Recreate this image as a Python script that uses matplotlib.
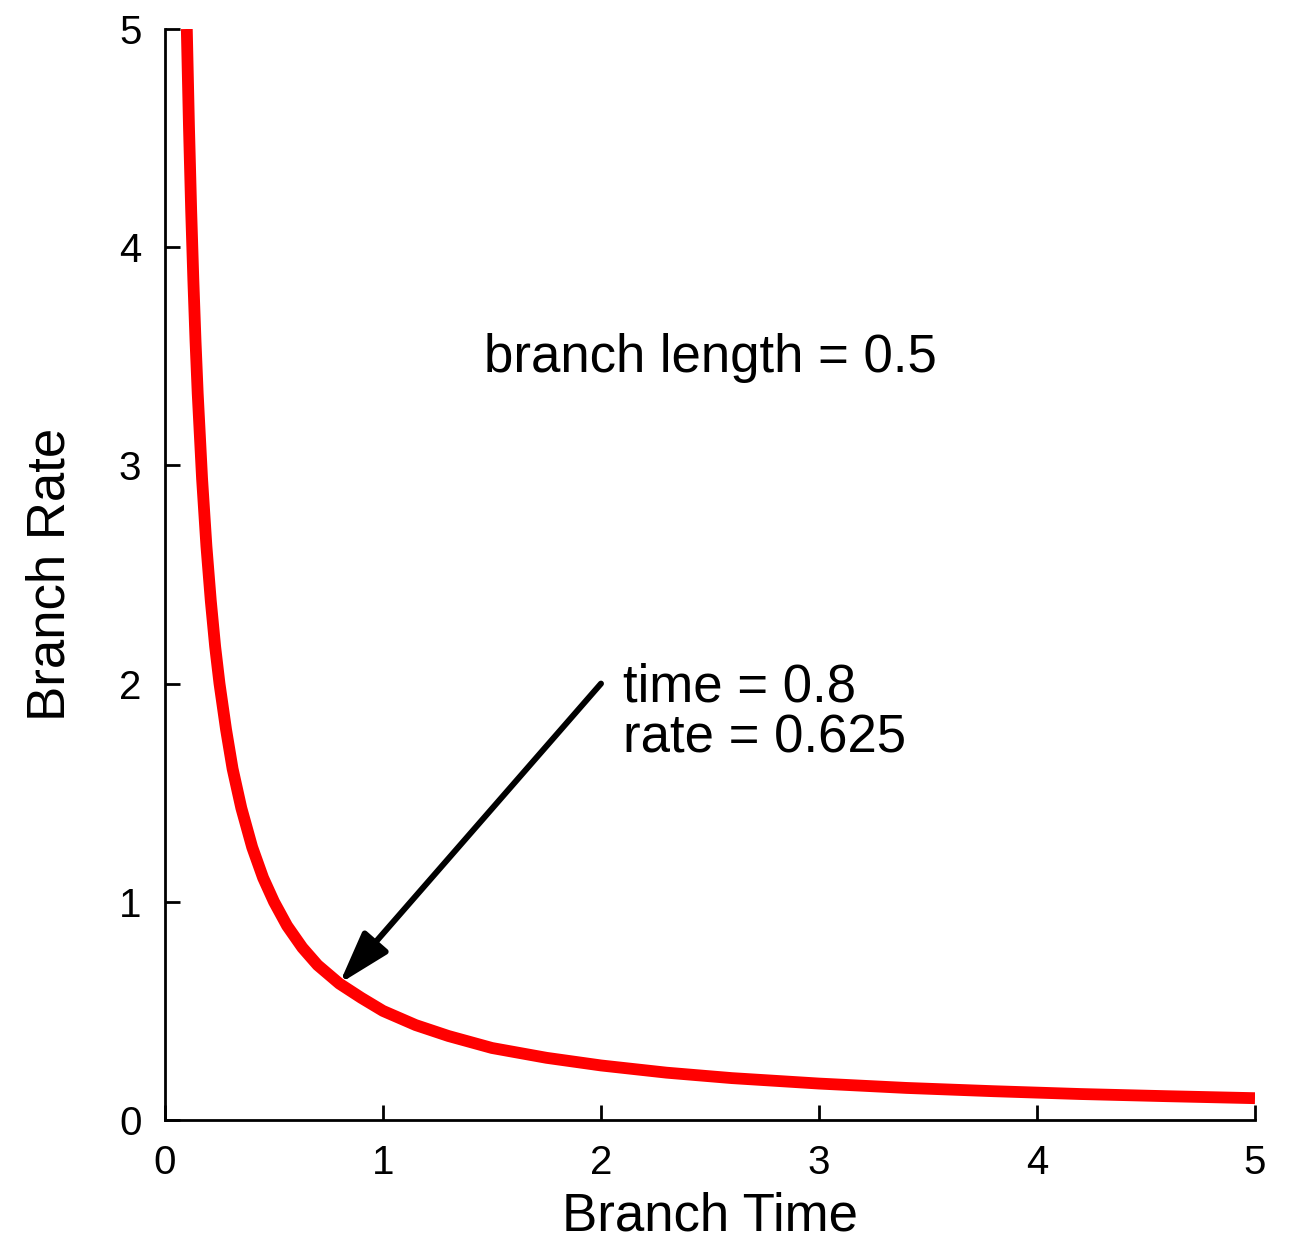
import matplotlib
matplotlib.use('Agg')
import matplotlib.pyplot as plt

# Egri uzerinden okunan noktalar (branch time, branch rate)
branch_time = [0.10, 0.11, 0.12, 0.13, 0.14, 0.15, 0.17, 0.19, 0.21, 0.23,
               0.25, 0.28, 0.31, 0.35, 0.40, 0.45, 0.50, 0.56, 0.63, 0.70,
               0.80, 0.90, 1.00, 1.15, 1.30, 1.50, 1.75, 2.00, 2.30, 2.60,
               3.00, 3.40, 3.80, 4.20, 4.60, 5.00]
branch_rate = [5.00, 4.55, 4.17, 3.85, 3.57, 3.33, 2.94, 2.63, 2.38, 2.17,
               2.00, 1.79, 1.61, 1.43, 1.25, 1.11, 1.00, 0.89, 0.79, 0.71,
               0.625, 0.56, 0.50, 0.435, 0.385, 0.33, 0.285, 0.25, 0.217, 0.192,
               0.167, 0.147, 0.132, 0.119, 0.109, 0.10]

x_ticks = [0, 1, 2, 3, 4, 5]
y_ticks = [0, 1, 2, 3, 4, 5]

point_time = 0.8
point_rate = 0.625
label_pos = (2.0, 2.0)

plt.rcParams['font.family'] = ['Liberation Sans', 'DejaVu Sans']

fig = plt.figure(figsize=(12.93, 12.43), dpi=100)
ax = fig.add_axes([165 / 1293, 123 / 1243, 1090 / 1293, 1091 / 1243])

ax.plot(branch_time, branch_rate, color='#ff0000', lw=8.5, solid_capstyle='butt',
        solid_joinstyle='round')

ax.set_xlim(0, 5)
ax.set_ylim(0, 5)
ax.set_xticks(x_ticks)
ax.set_yticks(y_ticks)
ax.tick_params(direction='in', length=11, width=2, labelsize=29)
ax.tick_params(axis='x', pad=17)
ax.tick_params(axis='y', pad=17)

for s in ['top', 'right']:
    ax.spines[s].set_visible(False)
for s in ['left', 'bottom']:
    ax.spines[s].set_linewidth(2)

ax.set_xlabel('Branch Time', fontsize=38, labelpad=7)
ax.set_ylabel('Branch Rate', fontsize=38, labelpad=31)

ax.text(2.5, 3.43, 'branch length = 0.5', fontsize=38, ha='center', va='baseline')
ax.text(2.1, 1.917, 'time = 0.8', fontsize=38, ha='left', va='baseline')
ax.text(2.1, 1.683, 'rate = 0.625', fontsize=38, ha='left', va='baseline')

ax.annotate('', xy=(point_time, point_rate), xytext=label_pos,
            arrowprops=dict(arrowstyle='-|>,head_length=1.6,head_width=0.5',
                            lw=4.3, color='black', shrinkA=0, shrinkB=0,
                            mutation_scale=20))

fig.savefig('out.png', dpi=100, facecolor='white')
